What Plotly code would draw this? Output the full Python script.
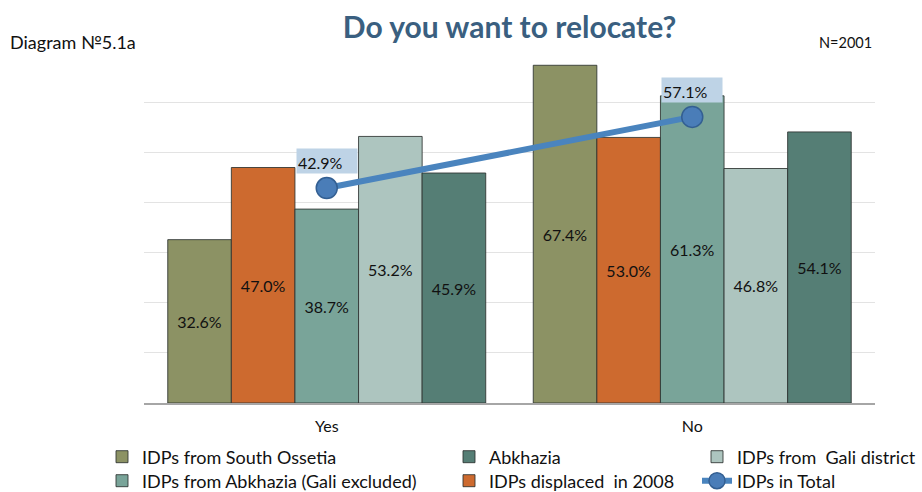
import plotly.graph_objects as go

# Survey answers and the five respondent groups
categories = ["Yes", "No"]
south_ossetia = [32.6, 67.4]
displaced_2008 = [47.0, 53.0]
abkhazia_gali_excluded = [38.7, 61.3]
gali_district = [53.2, 46.8]
abkhazia = [45.9, 54.1]
idps_total = [42.9, 57.1]

bar_series = [
    ("IDPs from South Ossetia", south_ossetia, "#8C9264", "legend"),
    ("IDPs displaced\u00a0 in 2008", displaced_2008, "#CD6A2F", "legend5"),
    ("IDPs from Abkhazia (Gali excluded)", abkhazia_gali_excluded, "#79A499", "legend4"),
    ("IDPs from\u00a0 Gali district", gali_district, "#ADC5BF", "legend3"),
    ("Abkhazia", abkhazia, "#557E75", "legend2"),
]

W, H = 922, 492
ML, MR, MT, MB = 144, 47, 52, 89
PW, PH = W - ML - MR, H - MT - MB
FONT = "Lato"


def px_to_paper(px, py):
    return (px - ML) / PW, (H - MB - py) / PH


fig = go.Figure()

for name, vals, color, leg in bar_series:
    fig.add_trace(go.Bar(
        x=categories, y=vals, name=name, legend=leg, showlegend=True,
        marker=dict(color=color, line=dict(color="rgba(45,50,48,0.85)", width=1)),
        texttemplate="%{y:.1f}%", textposition="inside", insidetextanchor="middle",
        textangle=0, textfont=dict(family=FONT, size=16, color="#111111"),
        hoverinfo="skip",
    ))

fig.add_trace(go.Scatter(
    x=categories, y=idps_total, name="IDPs in Total", legend="legend6",
    showlegend=True, mode="lines+markers",
    line=dict(color="#4A84BE", width=6),
    marker=dict(size=21, color="#4A7DB8", line=dict(color="#335F92", width=1.5)),
    hoverinfo="skip",
))

# Boxed value labels above the total line points
for cat, val in zip(categories, idps_total):
    fig.add_annotation(
        x=cat, y=val, xref="x", yref="y", yshift=27,
        text=f"{val:.1f}%", showarrow=False,
        bgcolor="#BED3E6", width=58, height=22, align="left", valign="bottom",
        font=dict(family=FONT, size=16, color="#111111"),
    )

ax, ay = px_to_paper(8, 42)
fig.add_annotation(
    x=ax, y=ay, xref="paper", yref="paper",
    xanchor="left", yanchor="middle", showarrow=False,
    text="Diagram №5.1a", font=dict(family=FONT, size=18, color="#111111"),
)
ax, ay = px_to_paper(874, 42)
fig.add_annotation(
    x=ax, y=ay, xref="paper", yref="paper",
    xanchor="right", yanchor="middle", showarrow=False,
    text="N=2001", font=dict(family=FONT, size=14.5, color="#111111"),
)

# One single-entry legend per slot so the three columns sit where they should
legend_pos = {
    "legend": (102, 457),
    "legend2": (449, 457),
    "legend3": (697, 457),
    "legend4": (102, 481),
    "legend5": (449, 481),
    "legend6": (697, 481),
}
legend_layouts = {}
for key, (lx, ly) in legend_pos.items():
    legend_layouts[key] = dict(
        x=lx / W, y=1 - ly / H, xref="container", yref="container",
        xanchor="left", yanchor="middle", orientation="v",
        bgcolor="rgba(0,0,0,0)", borderwidth=0,
        font=dict(family=FONT, size=18, color="#111111"),
    )

fig.update_layout(
    width=W, height=H,
    margin=dict(l=ML, r=MR, t=MT, b=MB, autoexpand=False),
    paper_bgcolor="white", plot_bgcolor="white",
    showlegend=True,
    barmode="group", bargap=0.13, bargroupgap=0,
    title=dict(
        text="<b>Do you want to relocate?</b>",
        x=0.5, xref="paper", y=1 - 27 / H, yref="container",
        xanchor="center", yanchor="middle",
        font=dict(family=FONT, size=30, color="#3A5F80"),
    ),
    xaxis=dict(
        showline=True, linecolor="#A6A6A6", linewidth=1.5,
        ticks="", ticklabelstandoff=8,
        tickfont=dict(family=FONT, size=16, color="#111111"),
        showgrid=False,
    ),
    yaxis=dict(
        range=[0, 70.05], tick0=0, dtick=10, showticklabels=False,
        showgrid=True, gridcolor="#E3E3E3", gridwidth=1,
        zeroline=False, showline=False, ticks="",
    ),
    **legend_layouts,
)

fig.write_html("out.html")
